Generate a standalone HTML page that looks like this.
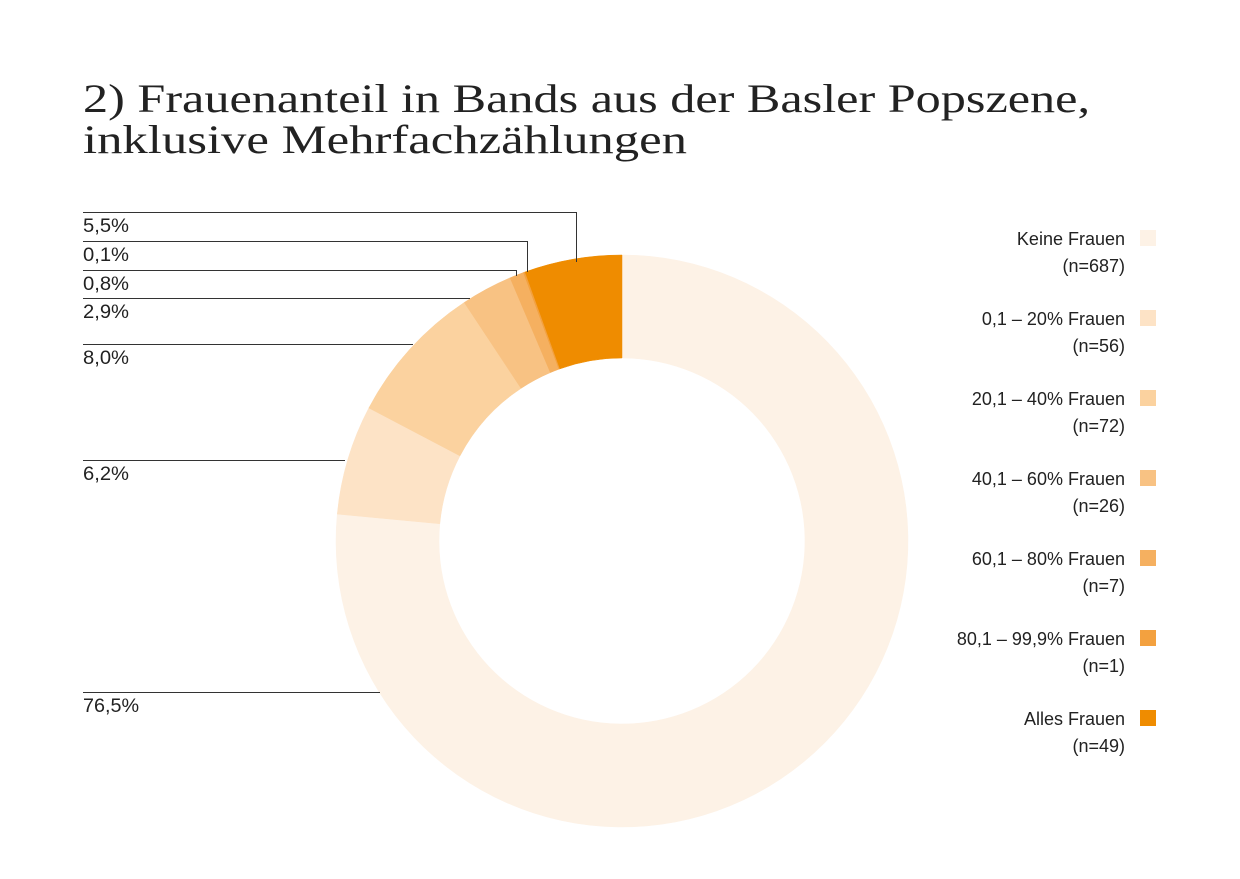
<!DOCTYPE html>
<html><head><meta charset="utf-8"><style>
html,body{margin:0;padding:0;background:#fff;width:1240px;height:879px;overflow:hidden}
.t{font-family:"Liberation Serif",serif;font-size:40px;fill:#222}
.l{font-family:"Liberation Sans",sans-serif;font-size:19px;fill:#222}
.g{font-family:"Liberation Sans",sans-serif;font-size:18px;fill:#222}
</style></head><body>
<svg id="s" width="1240" height="879" xmlns="http://www.w3.org/2000/svg">
<text class="t" x="83" y="112" textLength="1007" lengthAdjust="spacingAndGlyphs">2) Frauenanteil in Bands aus der Basler Popszene,</text>
<text class="t" x="83" y="153" textLength="604" lengthAdjust="spacingAndGlyphs">inklusive Mehrfachzählungen</text>
<g id="pie"></g>
<g stroke="#333" stroke-width="1" fill="none">
<polyline points="83,212.5 576.5,212.5 576.5,262"/>
<polyline points="83,241.5 527.5,241.5 527.5,272"/>
<polyline points="83,270.5 516.5,270.5 516.5,276"/>
<line x1="83" y1="298.5" x2="470" y2="298.5"/>
<line x1="83" y1="344.5" x2="413" y2="344.5"/>
<line x1="83" y1="460.5" x2="345" y2="460.5"/>
<line x1="83" y1="692.5" x2="380" y2="692.5"/>
</g>
<g class="l">
<text x="83" y="232" textLength="46" lengthAdjust="spacingAndGlyphs">5,5%</text>
<text x="83" y="261" textLength="46" lengthAdjust="spacingAndGlyphs">0,1%</text>
<text x="83" y="290" textLength="46" lengthAdjust="spacingAndGlyphs">0,8%</text>
<text x="83" y="318" textLength="46" lengthAdjust="spacingAndGlyphs">2,9%</text>
<text x="83" y="364" textLength="46" lengthAdjust="spacingAndGlyphs">8,0%</text>
<text x="83" y="480" textLength="46" lengthAdjust="spacingAndGlyphs">6,2%</text>
<text x="83" y="712" textLength="56" lengthAdjust="spacingAndGlyphs">76,5%</text>
</g>
<g id="leg" class="g" text-anchor="end"></g>
</svg>
<script>
var cx=622,cy=541,R=286,r=183;
var d=[[76.5,"#fdf2e6","Keine Frauen","(n=687)"],[6.2,"#fde3c6","0,1 – 20% Frauen","(n=56)"],[8.0,"#fbd29f","20,1 – 40% Frauen","(n=72)"],[2.9,"#f8c283","40,1 – 60% Frauen","(n=26)"],[0.8,"#f5b060","60,1 – 80% Frauen","(n=7)"],[0.1,"#f3a13f","80,1 – 99,9% Frauen","(n=1)"],[5.5,"#ef8c00","Alles Frauen","(n=49)"]];
var tot=100,a=0,g=document.getElementById("pie"),L=document.getElementById("leg"),ns="http://www.w3.org/2000/svg";
function p(rad,ang){return [cx+rad*Math.sin(ang),cy-rad*Math.cos(ang)];}
d.forEach(function(s,i){
 var a0=a/tot*2*Math.PI;a+=s[0];var a1=a/tot*2*Math.PI;var lg=(a1-a0)>Math.PI?1:0;
 var A=p(R,a0),B=p(R,a1),C=p(r,a1),D=p(r,a0);
 var e=document.createElementNS(ns,"path");
 e.setAttribute("d","M"+A+" A"+R+","+R+" 0 "+lg+" 1 "+B+" L"+C+" A"+r+","+r+" 0 "+lg+" 0 "+D+"Z");
 e.setAttribute("fill",s[1]);e.setAttribute("stroke",s[1]);e.setAttribute("stroke-width","0.5");g.appendChild(e);
 var y=230+i*80;
 var q=document.createElementNS(ns,"rect");q.setAttribute("x",1140);q.setAttribute("y",y);q.setAttribute("width",16);q.setAttribute("height",16);q.setAttribute("fill",s[1]);L.appendChild(q);
 var t1=document.createElementNS(ns,"text");t1.setAttribute("x",1125);t1.setAttribute("y",y+15);t1.textContent=s[2];L.appendChild(t1);
 var t2=document.createElementNS(ns,"text");t2.setAttribute("x",1125);t2.setAttribute("y",y+42);t2.textContent=s[3];L.appendChild(t2);
});
</script>
</body></html>
